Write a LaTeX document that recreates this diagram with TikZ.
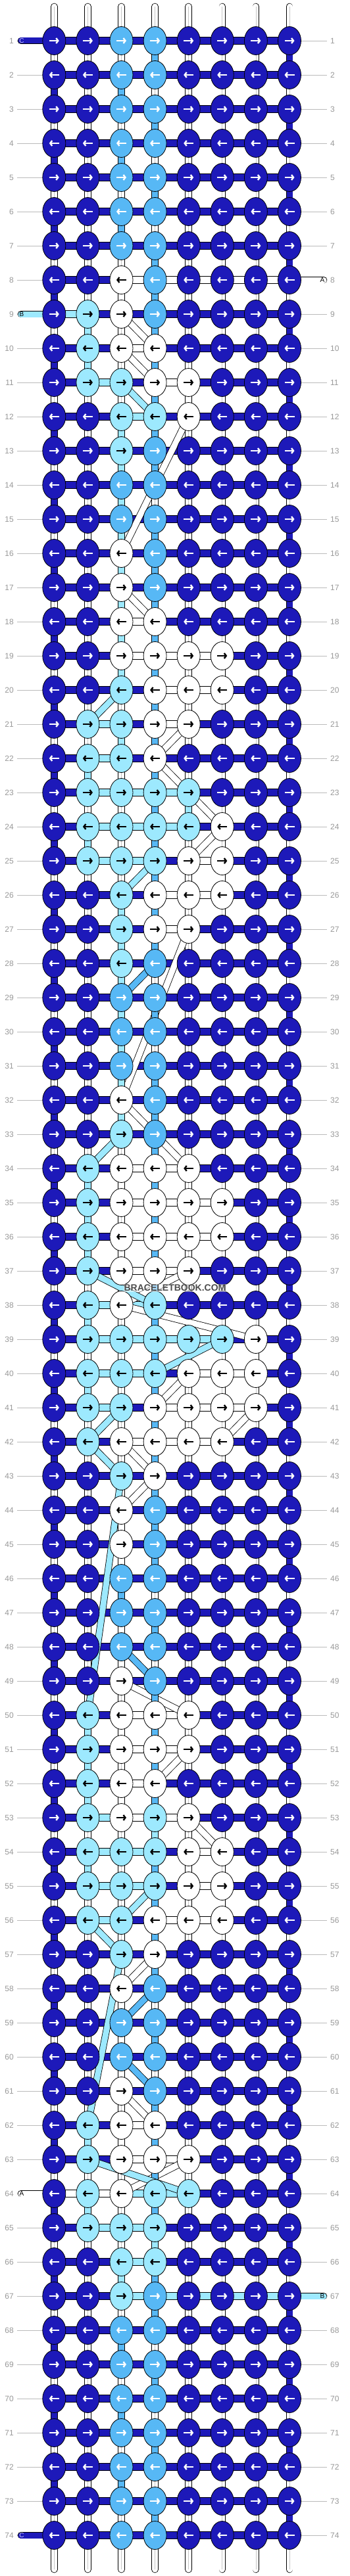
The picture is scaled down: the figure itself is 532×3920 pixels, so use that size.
\documentclass[tikz,border=0pt]{standalone}
\usepackage{fontspec}
\setmainfont{Liberation Sans}
\usetikzlibrary{arrows.meta,shapes.geometric}

\definecolor{colD}{HTML}{1D19B9}
\definecolor{colM}{HTML}{57B8F5}
\definecolor{colL}{HTML}{9DE9FE}
\definecolor{colW}{HTML}{FFFFFF}
\colorlet{arrD}{white}
\colorlet{arrM}{white}
\colorlet{arrL}{black}
\colorlet{arrW}{black}
\definecolor{numgray}{HTML}{999999}
\definecolor{rulegray}{HTML}{BBBBBB}

\tikzset{
  knot/.style={ellipse, draw=black, line width=0.8pt, minimum width=35pt, minimum height=43pt, inner sep=0pt},
  arr/.style={line width=2.4pt, -{Straight Barb[length=3pt,width=8pt]}},
  seg/.style={draw=black, line width=0.8pt},
  band/.style={draw=black, line width=0.8pt, double=#1, double distance=9pt},
  rownum/.style={text=numgray, font=\fontsize{12}{14}\selectfont, inner sep=0pt},
  tag/.style={font=\fontsize{10}{12}\selectfont, inner sep=0pt},
}

% knot colours per row / colours of the pieces between knots
\newcommand\knotrows{
1/{D,D,M,M,D,D,D,D}/{D,D,D,D,D,D,D}, 2/{D,D,M,M,D,D,D,D}/{D,D,D,D,D,D,D},
3/{D,D,M,M,D,D,D,D}/{D,D,D,D,D,D,D}, 4/{D,D,M,M,D,D,D,D}/{D,D,D,D,D,D,D},
5/{D,D,M,M,D,D,D,D}/{D,D,D,D,D,D,D}, 6/{D,D,M,M,D,D,D,D}/{D,D,D,D,D,D,D},
7/{D,D,M,M,D,D,D,D}/{D,D,D,D,D,D,D}, 8/{D,D,W,M,D,D,D,D}/{D,D,W,W,W,W,W},
9/{D,L,W,M,D,D,D,D}/{L,D,D,D,D,D,D}, 10/{D,L,W,W,D,D,D,D}/{D,D,W,D,D,D,D},
11/{D,L,L,W,W,D,D,D}/{D,L,D,W,D,D,D}, 12/{D,D,L,L,W,D,D,D}/{D,D,L,D,D,D,D},
13/{D,D,L,M,D,D,D,D}/{D,D,D,D,D,D,D}, 14/{D,D,M,M,D,D,D,D}/{D,D,D,D,D,D,D},
15/{D,D,M,M,D,D,D,D}/{D,D,D,D,D,D,D}, 16/{D,D,W,M,D,D,D,D}/{D,D,D,D,D,D,D},
17/{D,D,W,M,D,D,D,D}/{D,D,D,D,D,D,D}, 18/{D,D,W,W,D,D,D,D}/{D,D,W,D,D,D,D},
19/{D,D,W,W,W,W,D,D}/{D,D,W,W,W,D,D}, 20/{D,D,L,W,W,W,D,D}/{D,D,D,W,W,D,D},
21/{D,L,L,W,W,D,D,D}/{D,L,D,W,D,D,D}, 22/{D,L,L,W,D,D,D,D}/{D,L,D,D,D,D,D},
23/{D,L,L,L,L,D,D,D}/{D,L,L,L,D,D,D}, 24/{D,L,L,L,L,W,D,D}/{D,L,L,L,D,D,D},
25/{D,L,L,L,W,W,D,D}/{D,L,L,D,W,D,D}, 26/{D,D,L,W,W,W,D,D}/{D,D,D,W,W,D,D},
27/{D,D,L,W,W,D,D,D}/{D,D,D,W,D,D,D}, 28/{D,D,L,M,D,D,D,D}/{D,D,D,D,D,D,D},
29/{D,D,M,M,D,D,D,D}/{D,D,D,D,D,D,D}, 30/{D,D,M,M,D,D,D,D}/{D,D,D,D,D,D,D},
31/{D,D,M,M,D,D,D,D}/{D,D,D,D,D,D,D}, 32/{D,D,W,M,D,D,D,D}/{D,D,D,D,D,D,D},
33/{D,D,L,M,D,D,D,D}/{D,D,D,D,D,D,D}, 34/{D,L,W,W,W,D,D,D}/{D,D,W,W,D,D,D},
35/{D,L,W,W,W,W,D,D}/{D,D,W,W,W,D,D}, 36/{D,L,W,W,W,W,D,D}/{D,D,W,W,W,D,D},
37/{D,L,W,W,W,D,D,D}/{D,D,W,W,D,D,D}, 38/{D,L,W,L,D,D,D,D}/{D,L,L,D,D,D,D},
39/{D,L,L,L,L,L,W,D}/{D,L,L,L,L,D,D}, 40/{D,L,L,L,W,W,W,D}/{D,L,L,D,W,W,D},
41/{D,L,L,W,W,W,W,D}/{D,L,D,W,W,W,D}, 42/{D,L,W,W,W,W,D,D}/{D,D,W,W,W,D,D},
43/{D,D,L,W,D,D,D,D}/{D,D,D,D,D,D,D}, 44/{D,D,W,M,D,D,D,D}/{D,D,D,D,D,D,D},
45/{D,D,W,M,D,D,D,D}/{D,D,D,D,D,D,D}, 46/{D,D,M,M,D,D,D,D}/{D,D,D,D,D,D,D},
47/{D,D,M,M,D,D,D,D}/{D,D,D,D,D,D,D}, 48/{D,D,M,M,D,D,D,D}/{D,D,D,D,D,D,D},
49/{D,D,W,M,D,D,D,D}/{D,D,D,D,D,D,D}, 50/{D,L,W,W,W,D,D,D}/{D,D,W,W,D,D,D},
51/{D,L,W,W,W,D,D,D}/{D,D,W,W,D,D,D}, 52/{D,L,W,W,D,D,D,D}/{D,D,W,D,D,D,D},
53/{D,L,W,L,W,D,D,D}/{D,L,W,W,D,D,D}, 54/{D,L,L,L,W,W,D,D}/{D,L,L,D,W,D,D},
55/{D,L,L,L,W,W,D,D}/{D,L,L,D,W,D,D}, 56/{D,L,L,W,W,W,D,D}/{D,L,D,W,W,D,D},
57/{D,D,L,W,D,D,D,D}/{D,D,D,D,D,D,D}, 58/{D,D,W,M,D,D,D,D}/{D,D,D,D,D,D,D},
59/{D,D,M,M,D,D,D,D}/{D,D,D,D,D,D,D}, 60/{D,D,M,M,D,D,D,D}/{D,D,D,D,D,D,D},
61/{D,D,W,M,D,D,D,D}/{D,D,D,D,D,D,D}, 62/{D,L,W,W,D,D,D,D}/{D,D,W,D,D,D,D},
63/{D,L,W,W,W,D,D,D}/{D,D,W,W,D,D,D}, 64/{D,L,W,L,L,D,D,D}/{W,W,L,L,D,D,D},
65/{D,L,L,L,D,D,D,D}/{D,L,L,D,D,D,D}, 66/{D,D,L,L,D,D,D,D}/{D,D,L,D,D,D,D},
67/{D,D,L,M,D,D,D,D}/{D,D,L,L,L,L,L}, 68/{D,D,M,M,D,D,D,D}/{D,D,D,D,D,D,D},
69/{D,D,M,M,D,D,D,D}/{D,D,D,D,D,D,D}, 70/{D,D,M,M,D,D,D,D}/{D,D,D,D,D,D,D},
71/{D,D,M,M,D,D,D,D}/{D,D,D,D,D,D,D}, 72/{D,D,M,M,D,D,D,D}/{D,D,D,D,D,D,D},
73/{D,D,M,M,D,D,D,D}/{D,D,D,D,D,D,D}, 74/{D,D,M,M,D,D,D,D}/{D,D,D,D,D,D,D}}

\begin{document}
\begin{tikzpicture}[x=1pt, y=-1pt]
\fill[white] (0,0) rectangle (532,3920);
\useasboundingbox (0,0) rectangle (532,3920);

% knot places
\foreach \r in {1,...,74}
  \foreach \c in {1,...,8}
    \coordinate (p-\r-\c) at ({82.3+51.1*(\c-1)}, {62+52*(\r-1)});

% warp strings
\foreach \c in {1,...,8} {
  \coordinate (top-\c) at ({82.3+51.1*(\c-1)}, 10);
  \coordinate (bot-\c) at ({82.3+51.1*(\c-1)}, 3910);
  \draw[band=white, line cap=round] (top-\c) -- (bot-\c);
  \draw[gray!45, line width=0.7pt] (top-\c) -- (bot-\c);
}

% row numbers
\foreach \r in {1,...,74} {
  \coordinate (lft-\r) at (26, {62+52*(\r-1)});
  \coordinate (rgt-\r) at (497, {62+52*(\r-1)});
  \draw[rulegray, line width=0.8pt] (lft-\r) -- (p-\r-1);
  \draw[rulegray, line width=0.8pt] (p-\r-8) -- (rgt-\r);
  \node[rownum, anchor=east] (nl-\r) at (21, {62+52*(\r-1)}) {\r};
  \node[rownum, anchor=west] (nr-\r) at (502, {62+52*(\r-1)}) {\r};
}

% loose ends
\coordinate (endC1) at (32,62);
\coordinate (endA8) at (492,426);
\coordinate (endB9) at (32,478);
\coordinate (endA64) at (32,3338);
\coordinate (endB67) at (492,3494);
\coordinate (endC74) at (32,3858);
\draw[band=colD, line cap=round] (endC1) -- (p-1-1);
\draw[band=colW, line cap=round] (p-8-8) -- (endA8);
\draw[band=colL, line cap=round] (endB9) -- (p-9-1);
\draw[band=colW, line cap=round] (endA64) -- (p-64-1);
\draw[band=colL, line cap=round] (p-67-8) -- (endB67);
\draw[band=colD, line cap=round] (endC74) -- (p-74-1);
\node[tag, text=white!80!blue] (tC1) at (33,62) {C};
\node[tag] (tA8) at (490,426) {A};
\node[tag] (tB9) at (33,478) {B};
\node[tag] (tA64) at (33,3338) {A};
\node[tag] (tB67) at (490,3494) {B};
\node[tag, text=white!80!blue] (tC74) at (33,3858) {C};

% pieces between knots
\foreach \r/\kn/\sg in \knotrows {
  \foreach \s [count=\c] in \sg {
    \pgfmathtruncatemacro\cn{\c+1}
    \filldraw[seg, fill=col\s] ([yshift=5.5pt]p-\r-\c) rectangle ([yshift=-5.5pt]p-\r-\cn);
  }
}

% turns of the dark string at the edges
\foreach \r in {1,...,73} {
  \pgfmathtruncatemacro\rn{\r+1}
  \ifodd\r
    \draw[band=colD] (p-\r-8) -- (p-\rn-8);
  \else
    \draw[band=colD] (p-\r-1) -- (p-\rn-1);
  \fi
}

% carried strings
\foreach \ra/\ca/\rb/\cb/\col in {
  8/3/9/3/W, 9/3/10/4/W, 10/3/11/4/W, 11/5/12/5/W, 12/5/16/3/W, 16/3/17/3/W,
  17/3/18/4/W, 18/3/19/3/W, 19/6/20/6/W, 20/4/21/4/W, 21/5/22/4/W, 22/4/24/6/W,
  24/6/25/5/W, 25/6/26/6/W, 26/4/27/4/W, 27/5/32/3/W, 32/3/34/5/W, 34/3/35/3/W,
  35/6/36/6/W, 36/3/37/3/W, 37/5/38/3/W, 38/3/39/7/W, 39/7/40/7/W, 40/5/41/4/W,
  41/7/42/6/W, 42/3/43/4/W, 43/4/44/3/W, 44/3/49/3/W, 49/3/50/5/W, 50/3/51/3/W,
  51/5/52/4/W, 52/3/53/3/W, 53/5/54/6/W, 54/5/55/5/W, 55/6/56/6/W, 56/4/57/4/W,
  57/4/58/3/W, 58/3/61/3/W, 61/3/62/4/W, 62/3/63/3/W, 63/5/64/3/W,
  1/4/2/4/M, 2/3/3/3/M, 3/4/4/4/M, 4/3/5/3/M, 5/4/6/4/M, 6/3/7/3/M, 7/4/14/4/M,
  14/3/15/3/M, 15/4/28/4/M, 28/4/29/3/M, 29/4/30/4/M, 30/3/31/3/M, 31/4/46/4/M,
  46/3/47/3/M, 47/4/48/4/M, 48/3/49/4/M, 49/4/58/4/M, 58/4/59/3/M, 59/4/60/4/M,
  60/3/61/4/M, 61/4/68/4/M, 68/3/69/3/M, 69/4/70/4/M, 70/3/71/3/M, 71/4/72/4/M,
  72/3/73/3/M, 73/4/74/4/M,
  9/2/11/2/L, 11/3/12/4/L, 12/3/20/3/L, 20/3/21/2/L, 21/3/22/3/L, 22/2/23/2/L,
  23/5/24/5/L, 24/2/25/2/L, 25/4/26/3/L, 26/3/33/3/L, 33/3/34/2/L, 34/2/37/2/L,
  37/2/38/4/L, 38/2/39/2/L, 39/6/40/4/L, 40/2/41/2/L, 41/3/42/2/L, 42/2/43/3/L,
  43/3/50/2/L, 50/2/53/2/L, 53/4/54/4/L, 54/2/55/2/L, 55/4/56/3/L, 56/2/57/3/L,
  57/3/62/2/L, 62/2/63/2/L, 63/2/64/5/L, 64/2/65/2/L, 65/4/66/4/L, 66/3/67/3/L}
  \draw[band=col\col] (p-\ra-\ca) -- (p-\rb-\cb);

% knots
\foreach \r/\kn/\sg in \knotrows {
  \foreach \k [count=\c] in \kn {
    \node[knot, fill=col\k] (k-\r-\c) at (p-\r-\c) {};
    \ifodd\r
      \draw[arr, draw=arr\k] ([xshift=-7.5pt]p-\r-\c) -- ([xshift=7.5pt]p-\r-\c);
    \else
      \draw[arr, draw=arr\k] ([xshift=7.5pt]p-\r-\c) -- ([xshift=-7.5pt]p-\r-\c);
    \fi
  }
}

\node[font=\bfseries\fontsize{14}{16}\selectfont, text=black!70, fill=white, fill opacity=0.5, text opacity=1, inner sep=1pt] (mark) at (266,1960) {BRACELETBOOK.COM};
\end{tikzpicture}
\end{document}
